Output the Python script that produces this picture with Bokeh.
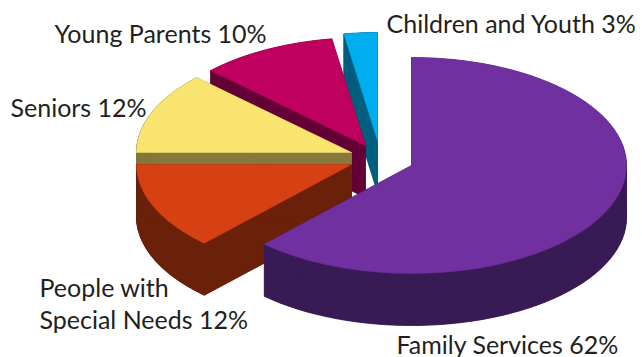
import numpy as np
from bokeh.plotting import figure
from bokeh.core.properties import value
from bokeh.embed import file_html
from bokeh.resources import INLINE

# Data
categories = ["Family Services", "People with Special Needs", "Seniors", "Young Parents", "Children and Youth"]
shares = [62.0, 13.0, 12.2, 10.3, 2.5]  # visual wedge shares

# Exploded-pie styling
apex_x = [411, 351, 351, 365, 377]
apex_y = [165, 164, 152, 145, 140]
top_colors = ["#70309f", "#d54112", "#f9e46f", "#c0005f", "#00adef"]
side_colors = ["#381a54", "#6b2009", "#85793c", "#650037", "#005f7f"]
RX, RY, DEPTH = 215, 108, 52

label_text = ["Children and Youth 3%", "Young Parents 10%", "Seniors 12%", "People with", "Special Needs 12%", "Family Services 62%"]
label_x = [386, 54, 10, 39, 39, 396]
label_y = [22, 32, 106, 286, 318, 343]
FONT = "Lato"
FONT_SIZE = "25px"

p = figure(width=642, height=357, x_range=(0, 642), y_range=(357, 0),
           output_backend="svg", toolbar_location=None, min_border=0,
           background_fill_color="white", border_fill_color="white",
           outline_line_color=None,
           styles={"position": "absolute", "left": "0px", "top": "0px"})
p.axis.visible = False
p.grid.visible = False

edges = np.concatenate([[0], np.cumsum(shares)]) / np.sum(shares) * 2 * np.pi
for i in [4, 3, 2, 1, 0]:
    t = np.linspace(edges[i], edges[i + 1], 80)
    xs = np.concatenate([[apex_x[i]], apex_x[i] + RX * np.sin(t)])
    ys = np.concatenate([[apex_y[i]], apex_y[i] - RY * np.cos(t)])
    qx, qy = [], []
    n = len(xs)
    for a in range(n):
        b = (a + 1) % n
        qx.append([xs[a], xs[b], xs[b], xs[a]])
        qy.append([ys[a], ys[b], ys[b] + DEPTH, ys[a] + DEPTH])
    qx.append(list(xs))
    qy.append(list(ys + DEPTH))
    p.patches(qx, qy, fill_color=side_colors[i], line_color=side_colors[i], line_width=0.5)
    p.patch(xs, ys, fill_color=top_colors[i], line_color=top_colors[i], line_width=0.5)

p.text(label_x, label_y, text=label_text, text_font=value(FONT), text_font_size=value(FONT_SIZE),
       text_color="#231f20", text_baseline="alphabetic", text_align="left")

open("out.html", "w").write(file_html(p, INLINE))
